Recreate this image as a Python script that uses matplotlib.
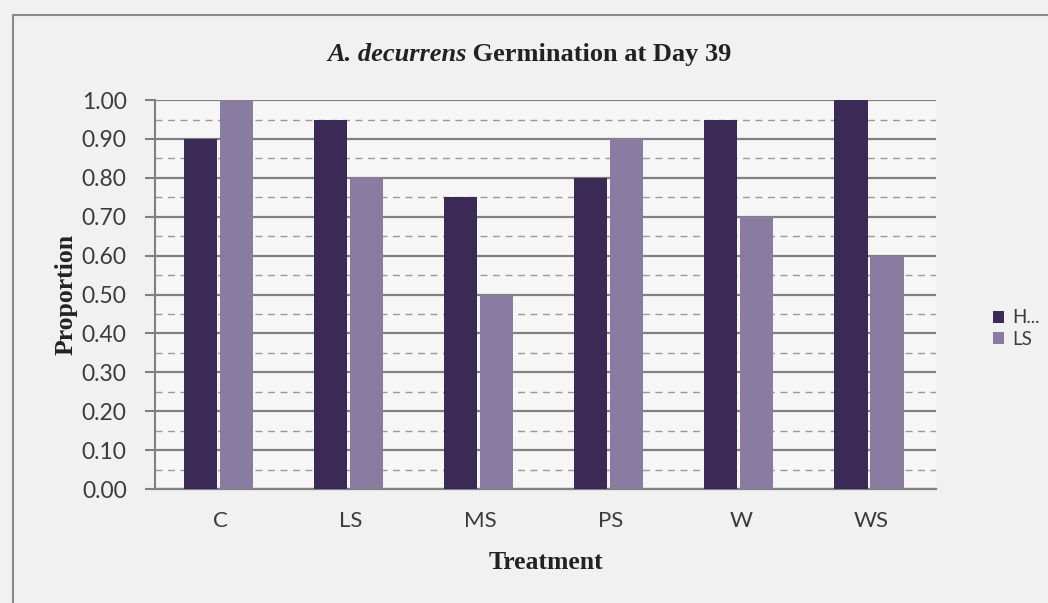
import numpy as np
import matplotlib
matplotlib.use("Agg")
import matplotlib.pyplot as plt
from matplotlib.patches import Rectangle
from matplotlib.ticker import MultipleLocator, FormatStrFormatter

treatments = ["C", "LS", "MS", "PS", "W", "WS"]
h_vals = [0.90, 0.95, 0.75, 0.80, 0.95, 1.00]
ls_vals = [1.00, 0.80, 0.50, 0.90, 0.70, 0.60]
series_names = ["H...", "LS"]

dark = "#3b2a56"
light = "#8a7ca1"
grid_col = "#808080"
bg = "#f1f1f1"
txt = "#3c3c3c"

fig = plt.figure(figsize=(10.48, 6.03), dpi=100, facecolor=bg)
ax = fig.add_axes([0.148, 0.189, 0.745, 0.645])
ax.set_facecolor("#f6f6f6")

# chart border
fig.patches.append(Rectangle((13 / 1048, -0.1), 1.2, 1 - 15 / 603 + 0.1,
                             transform=fig.transFigure, fill=False,
                             edgecolor="#8a8a8a", linewidth=1.5))

x = np.arange(len(treatments))
w = 0.255
ax.bar(x - w / 2 - 0.025, h_vals, w, color=dark, label=series_names[0], zorder=3)
ax.bar(x + w / 2 - 0.003, ls_vals, w, color=light, label=series_names[1], zorder=3)

ax.set_xlim(-0.5, len(treatments) - 0.5)
ax.set_ylim(0, 1.0)
ax.yaxis.set_major_locator(MultipleLocator(0.1))
ax.yaxis.set_minor_locator(MultipleLocator(0.05))
ax.yaxis.set_major_formatter(FormatStrFormatter("%.2f"))
ax.grid(axis="y", which="major", color=grid_col, linewidth=1.6, zorder=1)
ax.grid(axis="y", which="minor", color="#9a9a9a", linewidth=1.0,
        linestyle=(0, (5, 4)), zorder=1)
ax.set_axisbelow(True)

for s in ["top", "right"]:
    ax.spines[s].set_visible(False)
ax.spines["left"].set_color(grid_col)
ax.spines["left"].set_linewidth(1.5)
ax.spines["bottom"].set_color(grid_col)
ax.spines["bottom"].set_linewidth(1.6)

ax.set_xticks(x)
ax.set_xticklabels(treatments)
ax.tick_params(axis="x", length=0, pad=16, labelsize=16, labelcolor=txt)
ax.tick_params(axis="y", which="major", length=7, width=1.5, color=grid_col,
               labelsize=16.5, labelcolor=txt, pad=13.5)
ax.tick_params(axis="y", which="minor", length=0)
for lab in ax.get_xticklabels() + ax.get_yticklabels():
    lab.set_family("Lato")

ax.set_ylabel("Proportion", family="Liberation Serif", fontweight="bold",
              fontsize=18.5, labelpad=3, color="#222222")
ax.set_xlabel("Treatment", family="Liberation Serif", fontweight="bold",
              fontsize=18.5, labelpad=14, color="#222222")

# title: italic species name followed by upright text
t1 = fig.text(327 / 1048, 0.910, "A. decurrens", ha="left", va="center",
              fontsize=19, family="Liberation Serif", fontweight="bold",
              fontstyle="italic", color="#222222")
fig.canvas.draw()
bb = t1.get_window_extent()
fig.text(bb.x1 / fig.bbox.width, 0.910, " Germination at Day 39",
         ha="left", va="center", fontsize=19, family="Liberation Serif",
         fontweight="bold", color="#222222")

leg = fig.legend(loc="center left", bbox_to_anchor=(0.931, 0.455),
                 frameon=False, handlelength=0.6, handleheight=0.6,
                 handletextpad=0.45, labelspacing=0.25,
                 prop={"family": "Lato", "size": 13.5})
for t in leg.get_texts():
    t.set_color(txt)

fig.savefig("out.png", dpi=100, facecolor=bg)
